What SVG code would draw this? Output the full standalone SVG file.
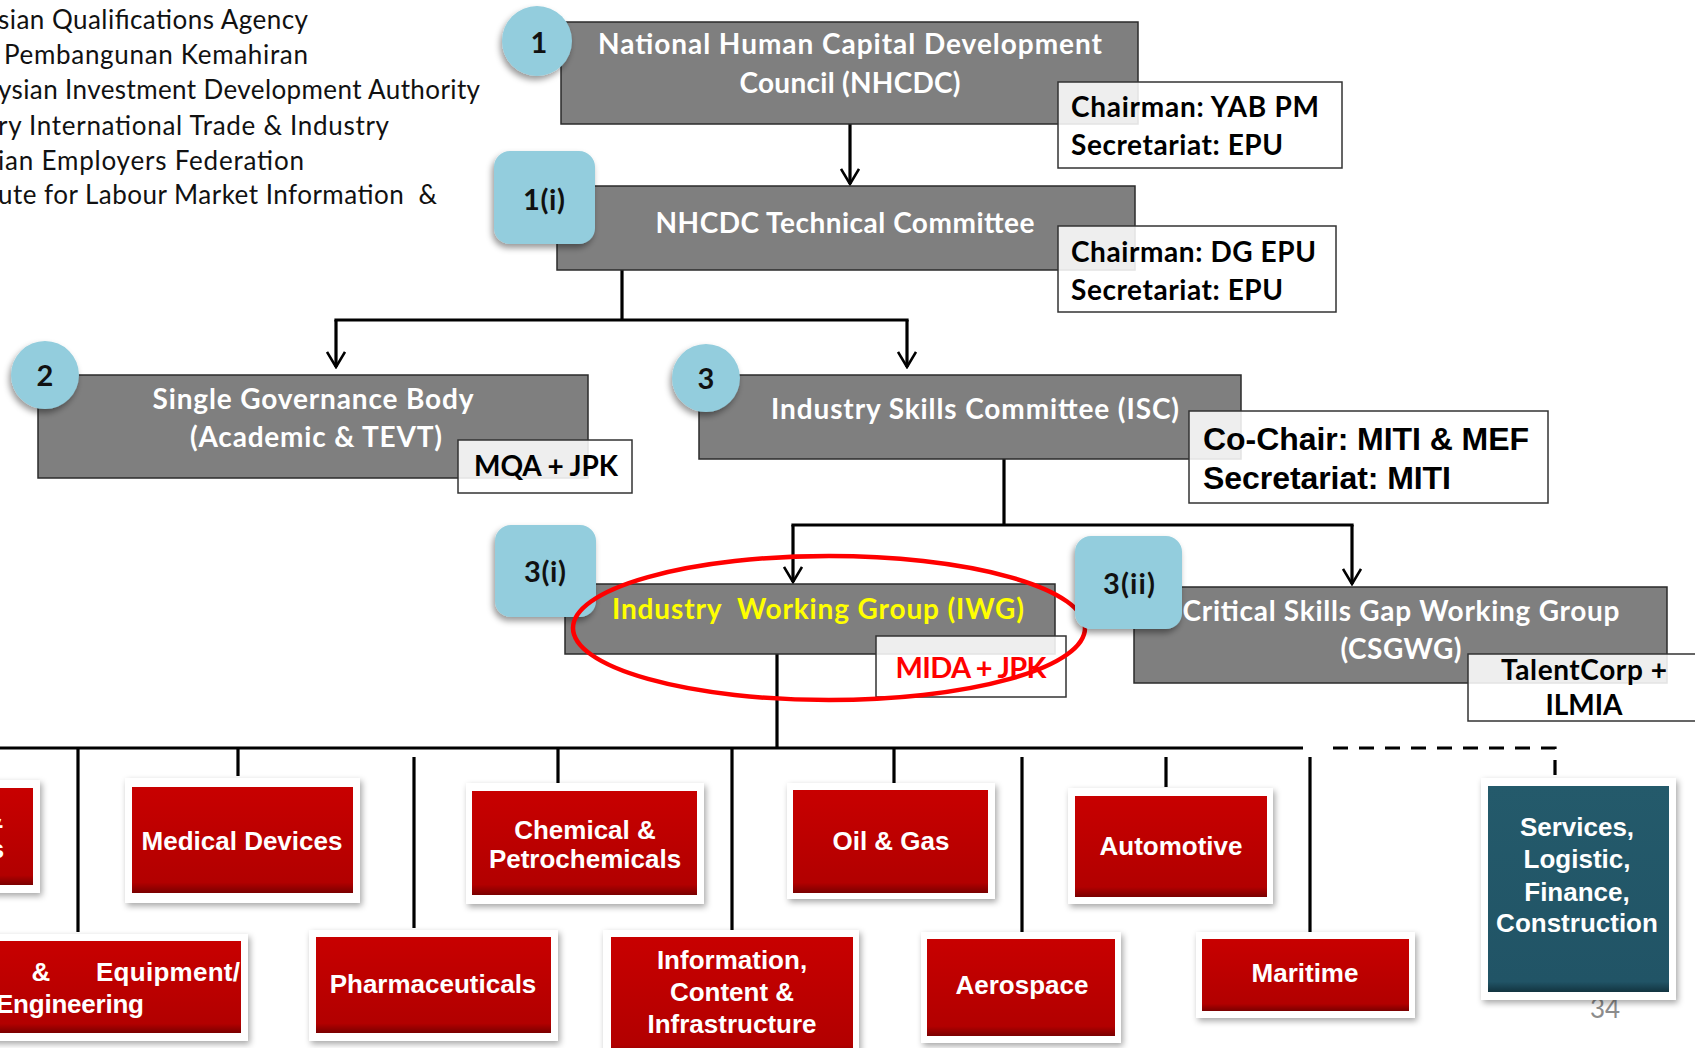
<svg xmlns="http://www.w3.org/2000/svg" width="1695" height="1048" viewBox="0 0 1695 1048">
<defs>
<style>
.lt{font-family:Lato,"Open Sans","Liberation Sans",sans-serif;font-size:26px;fill:#111}
.gb{fill:#7f7f7f;stroke:#2b2b2b;stroke-width:1.5}
.gt{font-family:Lato,"Open Sans","Liberation Sans",sans-serif;font-weight:700;font-size:28px;fill:#fff;text-anchor:middle}
.ib{fill:#fff;fill-opacity:0.87;stroke:#333;stroke-width:1.5}
.it{font-family:Lato,"Open Sans","Liberation Sans",sans-serif;font-weight:700;font-size:28px;fill:#000}
.badge{fill:#93cddd}
.bt{font-family:Lato,"Open Sans","Liberation Sans",sans-serif;font-weight:700;font-size:29px;fill:#111;text-anchor:middle}
.frame{fill:#fff}
.rt{font-family:"Liberation Sans",Arial,sans-serif;font-weight:700;font-size:26px;fill:#fff;text-anchor:middle}
.rs{font-family:"Liberation Sans",Arial,sans-serif;font-weight:700;font-size:26px;fill:#fff;text-anchor:start}
.ln{stroke:#000;stroke-width:3.2;fill:none}
.dl{stroke:#000;stroke-width:3.2;fill:none;stroke-dasharray:15 11}
</style>
<filter id="sh" x="-20%" y="-20%" width="140%" height="140%">
<feDropShadow dx="2" dy="3" stdDeviation="3" flood-color="#000" flood-opacity="0.35"/>
</filter>
<filter id="bsh" x="-30%" y="-30%" width="160%" height="160%">
<feDropShadow dx="-2" dy="4" stdDeviation="3" flood-color="#000" flood-opacity="0.4"/>
</filter>
<linearGradient id="redg" x1="0" y1="0" x2="0" y2="1">
<stop offset="0" stop-color="#c80000"/>
<stop offset="0.9" stop-color="#b20000"/>
<stop offset="1" stop-color="#7a0000"/>
</linearGradient>
<linearGradient id="tealg" x1="0" y1="0" x2="0" y2="1">
<stop offset="0" stop-color="#245a6b"/>
<stop offset="0.95" stop-color="#215466"/>
<stop offset="1" stop-color="#123440"/>
</linearGradient>
<marker id="ah" viewBox="0 0 20 20" refX="18" refY="10" markerWidth="20" markerHeight="20" markerUnits="userSpaceOnUse" orient="auto">
<path d="M3,1 L18,10 L3,19" fill="none" stroke="#000" stroke-width="2.6"/>
</marker>
</defs>
<rect width="1695" height="1048" fill="#fff"/>

<g id="legend">
<text class="lt" x="308" y="29" text-anchor="end" textLength="310">sian Qualifications Agency</text>
<text class="lt" x="308" y="64" text-anchor="end" textLength="304">Pembangunan Kemahiran</text>
<text class="lt" x="480" y="99" text-anchor="end" textLength="482">ysian Investment Development Authority</text>
<text class="lt" x="389" y="135" text-anchor="end" textLength="391">ry International Trade &amp; Industry</text>
<text class="lt" x="304" y="170" text-anchor="end" textLength="306">ian Employers Federation</text>
<text class="lt" x="437" y="204" text-anchor="end" textLength="439" xml:space="preserve">ute for Labour Market Information  &amp;</text>
</g>

<g id="connectors">
<path class="ln" d="M850,124 V184" marker-end="url(#ah)"/>
<path class="ln" d="M622,270 V320 M334.4,320 H908.6"/>
<path class="ln" d="M336,320 V367" marker-end="url(#ah)"/>
<path class="ln" d="M907,320 V367" marker-end="url(#ah)"/>
<path class="ln" d="M1004,459 V525 M791.4,525 H1353.6"/>
<path class="ln" d="M793,525 V582" marker-end="url(#ah)"/>
<path class="ln" d="M1352,525 V584" marker-end="url(#ah)"/>
<path class="ln" d="M777,654 V748 M0,748 H1303"/>
<path class="ln" d="M78,748 V932 M238,748 V776 M414,757 V928 M558,748 V783 M732,748 V930 M894,748 V783 M1022,757 V932 M1166,757 V787 M1310,757 V932"/>
<path class="dl" d="M1333,748 H1555 V778"/>
</g>

<g id="n1">
<rect class="gb" x="561" y="22" width="577" height="102"/>
<text class="gt" x="850" y="54" textLength="504">National Human Capital Development</text>
<text class="gt" x="850" y="93" textLength="221">Council (NHCDC)</text>
<circle class="badge" cx="537" cy="41" r="35" filter="url(#bsh)"/>
<text class="bt" x="539" y="53">1</text>
<rect class="ib" x="1058" y="82" width="284" height="86"/>
<text class="it" x="1071" y="117" textLength="248">Chairman: YAB PM</text>
<text class="it" x="1071" y="155" textLength="212">Secretariat: EPU</text>
</g>

<g id="n1i">
<rect class="gb" x="557" y="186" width="578" height="84"/>
<text class="gt" x="845" y="233" textLength="379">NHCDC Technical Committee</text>
<rect class="badge" x="494" y="151" width="101" height="93" rx="16" filter="url(#bsh)"/>
<text class="bt" x="544" y="210" textLength="42">1(i)</text>
<rect class="ib" x="1058" y="226" width="278" height="86"/>
<text class="it" x="1071" y="262" textLength="245">Chairman: DG EPU</text>
<text class="it" x="1071" y="300" textLength="212">Secretariat: EPU</text>
</g>

<g id="n2">
<rect class="gb" x="38" y="375" width="550" height="103"/>
<text class="gt" x="313" y="409" textLength="321">Single Governance Body</text>
<text class="gt" x="316" y="447" textLength="252">(Academic &amp; TEVT)</text>
<circle class="badge" cx="45" cy="375" r="34" filter="url(#bsh)"/>
<text class="bt" x="45" y="386">2</text>
<rect class="ib" x="458" y="440" width="174" height="53"/>
<text class="it" x="546" y="476" text-anchor="middle" textLength="144">MQA + JPK</text>
</g>

<g id="n3">
<rect class="gb" x="699" y="375" width="542" height="84"/>
<text class="gt" x="975" y="419" textLength="408">Industry Skills Committee (ISC)</text>
<circle class="badge" cx="706" cy="378" r="34" filter="url(#bsh)"/>
<text class="bt" x="706" y="389">3</text>
<rect class="ib" x="1189" y="411" width="359" height="92"/>
<text class="it" x="1203" y="450" style="font-family:'Liberation Sans',Arial,sans-serif;font-size:32px" textLength="326">Co-Chair: MITI &amp; MEF</text>
<text class="it" x="1203" y="489" style="font-family:'Liberation Sans',Arial,sans-serif;font-size:32px" textLength="248">Secretariat: MITI</text>
</g>

<g id="n3i">
<rect class="gb" x="565" y="584" width="490" height="70"/>
<text class="gt" x="818" y="619" style="fill:#ffff00" textLength="412" xml:space="preserve">Industry  Working Group (IWG)</text>
<rect class="badge" x="495" y="525" width="101" height="92" rx="16" filter="url(#bsh)"/>
<text class="bt" x="545" y="582" textLength="42">3(i)</text>
<rect class="ib" x="876" y="636" width="190" height="61"/>
<text class="it" x="971" y="678" text-anchor="middle" style="fill:#ff0000;font-size:29px" textLength="151">MIDA + JPK</text>
</g>

<g id="highlight">
<ellipse cx="829" cy="628" rx="256" ry="72" fill="none" stroke="#ff0000" stroke-width="4.5"/>
</g>

<g id="n3ii">
<rect class="gb" x="1134" y="587" width="533" height="96"/>
<text class="gt" x="1401" y="621" textLength="437">Critical Skills Gap Working Group</text>
<text class="gt" x="1401" y="659" textLength="121">(CSGWG)</text>
<rect class="badge" x="1075" y="536" width="107" height="93" rx="16" filter="url(#bsh)"/>
<text class="bt" x="1129" y="594" textLength="52">3(ii)</text>
<rect class="ib" x="1468" y="654" width="240" height="67"/>
<text class="it" x="1584" y="680" text-anchor="middle" textLength="166">TalentCorp +</text>
<text class="it" x="1584" y="715" text-anchor="middle" textLength="77">ILMIA</text>
</g>

<g id="r-electrical">
<rect class="frame" x="-20" y="780" width="60" height="113" filter="url(#sh)"/>
<rect x="-20" y="788" width="53" height="97" fill="url(#redg)"/>
<text class="rt" x="-6" y="828">&amp;</text>
<text class="rt" x="-3" y="858">s</text>
</g>

<g id="r-medical">
<rect class="frame" x="125" y="778" width="235" height="125" filter="url(#sh)"/>
<rect x="132" y="787" width="221" height="106" fill="url(#redg)"/>
<text class="rt" x="242" y="850">Medical Devices</text>
</g>

<g id="r-chemical">
<rect class="frame" x="466" y="783" width="238" height="121" filter="url(#sh)"/>
<rect x="472" y="791" width="225" height="104" fill="url(#redg)"/>
<text class="rt" x="585" y="839">Chemical &amp;</text>
<text class="rt" x="585" y="868">Petrochemicals</text>
</g>

<g id="r-oilgas">
<rect class="frame" x="787" y="783" width="208" height="116" filter="url(#sh)"/>
<rect x="793" y="790" width="195" height="103" fill="url(#redg)"/>
<text class="rt" x="891" y="850">Oil &amp; Gas</text>
</g>

<g id="r-automotive">
<rect class="frame" x="1068" y="788" width="205" height="116" filter="url(#sh)"/>
<rect x="1075" y="796" width="192" height="101" fill="url(#redg)"/>
<text class="rt" x="1171" y="855">Automotive</text>
</g>

<g id="r-equipment">
<rect class="frame" x="-20" y="934" width="268" height="107" filter="url(#sh)"/>
<rect x="-20" y="941" width="261" height="92" fill="url(#redg)"/>
<text class="rt" x="41" y="981">&amp;</text>
<text class="rs" x="96" y="981" textLength="144">Equipment/</text>
<text class="rs" x="-4" y="1013" textLength="148">Engineering</text>
</g>

<g id="r-pharma">
<rect class="frame" x="309" y="930" width="249" height="111" filter="url(#sh)"/>
<rect x="316" y="937" width="235" height="96" fill="url(#redg)"/>
<text class="rt" x="433" y="993">Pharmaceuticals</text>
</g>

<g id="r-ict">
<rect class="frame" x="603" y="930" width="256" height="130" filter="url(#sh)"/>
<rect x="611" y="937" width="242" height="120" fill="url(#redg)"/>
<text class="rt" x="732" y="969">Information,</text>
<text class="rt" x="732" y="1001">Content &amp;</text>
<text class="rt" x="732" y="1033">Infrastructure</text>
</g>

<g id="r-aerospace">
<rect class="frame" x="921" y="932" width="200" height="111" filter="url(#sh)"/>
<rect x="927" y="939" width="188" height="97" fill="url(#redg)"/>
<text class="rt" x="1022" y="994">Aerospace</text>
</g>

<g id="r-maritime">
<rect class="frame" x="1196" y="932" width="219" height="86" filter="url(#sh)"/>
<rect x="1202" y="939" width="207" height="72" fill="url(#redg)"/>
<text class="rt" x="1305" y="982">Maritime</text>
</g>

<text x="1605" y="1018" text-anchor="middle" style="font-family:Lato,'Open Sans',sans-serif;font-size:26px;fill:#8c8c8c">34</text>

<g id="t-services">
<rect class="frame" x="1481" y="778" width="195" height="222" filter="url(#sh)"/>
<rect x="1488" y="786" width="181" height="206" fill="url(#tealg)"/>
<text class="rt" x="1577" y="836">Services,</text>
<text class="rt" x="1577" y="868">Logistic,</text>
<text class="rt" x="1577" y="901">Finance,</text>
<text class="rt" x="1577" y="932">Construction</text>
</g>
</svg>
